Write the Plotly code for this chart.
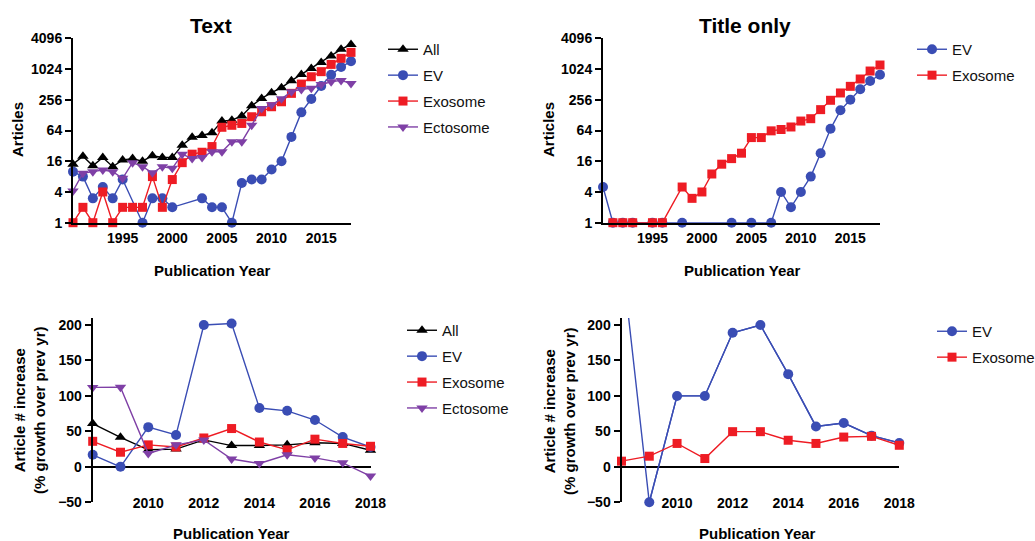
import math
import plotly.graph_objects as go

W, H = 1035, 541

# ---------------- data ----------------
years = list(range(1990, 2019))
text_all = [14, 20, 13, 19, 12.5, 17, 18, 16, 20.5, 19, 19, 33, 47, 51, 58, 98, 102, 123,
            196, 272, 352, 442, 605, 804, 1053, 1380, 1840, 2490, 3110]
text_ev = [10, 8, 3, 5, 3, 7, None, 1, 3, 3, 2, None, None, 3, 2, 2, 1, 6,
           7, 7, 11, 16, 48, 145, 265, 475, 788, 1119, 1455]
text_exo = [1, 2, 1, 4, 1, 2, 2, 2, 8, 2, 7, 15, 22, 24, 31, 74, 81, 88,
            119, 149, 187, 234, 342, 520, 723, 910, 1262, 1660, 2170]
text_ecto = [4.2, 9.3, 10, 10.8, 10, 7.4, 15, 12.5, 9.5, 12.5, 11.6, 22, 18, 19, 24.6, 24.6, 38.6, 38.6,
             81.5, 173, 204, 267, 369, 409, 430, 507, 578, 613, 533]

title_ev = [5, 1, 1, 1, None, 1, 1, None, 1, None, None, None, None, 1, None, 1, None, 1,
            4, 2, 4, 8, 23, 69, 159, 256, 410, 597, 792]
title_exo = [None, 1, 1, 1, None, 1, 1, None, 5, 3, 4, 9, 14, 18, 23, 46.5, 46.5, 63,
             67, 75, 98, 109, 164, 250, 348, 469, 653, 936, 1227]

growth_years = list(range(2008, 2019))
g_text_all = [61, 41.7, 24, 25, 38, 30, 30, 31, 34, 33, 23.4]
g_text_ev = [17, 0, 56, 45, 200, 202, 83, 79, 66, 42, 28]
g_text_exo = [36, 20.6, 31, 28, 40.7, 54, 35, 24, 39, 33, 29]
g_text_ecto = [112, 112.4, 18.7, 31, 38, 11, 4.7, 17, 12.6, 5.6, -13]
g_title_ev = [300, -50, 100, 100, 189, 200, 130.7, 57, 61.8, 44, 33.7]
g_title_exo = [8, 15, 33, 11.7, 49.6, 49.6, 37.5, 33, 42, 43, 30.4]

log_ticks = [1, 4, 16, 64, 256, 1024, 4096]
top_xticks = [1995, 2000, 2005, 2010, 2015]
bottom_xticks = [2010, 2012, 2014, 2016, 2018]
bottom_yticks = [-50, 0, 50, 100, 150, 200]
GROWTH_RANGE = [-50, 210]

# ---------------- style ----------------
FONT = "Liberation Sans, Arial, Helvetica, sans-serif"
BLACK = "#000000"
BLUE = "#3A4DB4"
RED = "#EE1C24"
PURPLE = "#7F40A6"

series_style = {
    "All": dict(color=BLACK, symbol="triangle-up", size=10),
    "EV": dict(color=BLUE, symbol="circle", size=10),
    "Exosome": dict(color=RED, symbol="square", size=9),
    "Ectosome": dict(color=PURPLE, symbol="triangle-down", size=10),
}


def px_x(p):
    return p / W


def px_y(p):
    return 1 - p / H


fig = go.Figure()


def add(name, x, y, xa, ya, legend, group, showlegend=True, clip=False, mode="lines+markers"):
    st = series_style[name]
    fig.add_trace(go.Scatter(
        x=x, y=y, name=name, mode=mode, xaxis=xa, yaxis=ya,
        legend=legend, legendgroup=group, showlegend=showlegend,
        connectgaps=True, cliponaxis=clip,
        line=dict(color=st["color"], width=1.4),
        marker=dict(color=st["color"], symbol=st["symbol"], size=st["size"], line=dict(width=0)),
    ))


# Text (top-left)
add("All", years, text_all, "x", "y", "legend", "a1")
add("EV", years, text_ev, "x", "y", "legend", "a2")
add("Exosome", years, text_exo, "x", "y", "legend", "a3")
add("Ectosome", years, text_ecto, "x", "y", "legend", "a4")

# Title only (top-right)
add("EV", years, title_ev, "x2", "y2", "legend2", "b1")
add("Exosome", years, title_exo, "x2", "y2", "legend2", "b2")

# Growth, text (bottom-left)
add("All", growth_years, g_text_all, "x3", "y3", "legend3", "c1")
add("EV", growth_years, g_text_ev, "x3", "y3", "legend3", "c2")
add("Exosome", growth_years, g_text_exo, "x3", "y3", "legend3", "c3")
add("Ectosome", growth_years, g_text_ecto, "x3", "y3", "legend3", "c4")

# Growth, title only (bottom-right): full line clipped to the plot area,
# plus the in-range points with markers
add("EV", growth_years, g_title_ev, "x4", "y4", "legend4", "d1", showlegend=False, clip=True, mode="lines")
vis = [(xv, yv) for xv, yv in zip(growth_years, g_title_ev) if GROWTH_RANGE[0] <= yv <= GROWTH_RANGE[1]]
add("EV", [v[0] for v in vis], [v[1] for v in vis], "x4", "y4", "legend4", "d1")
add("Exosome", growth_years, g_title_exo, "x4", "y4", "legend4", "d2")

TICKFONT = dict(family=FONT, size=14, color="black", weight="bold")
common_axis = dict(showgrid=False, linecolor="black", linewidth=2, tickfont=TICKFONT)

top_y_dom = [px_y(222.7), px_y(38.3)]
bot_y_dom = [px_y(502.3), px_y(502.3 - (GROWTH_RANGE[1] - GROWTH_RANGE[0]) * 0.7092)]


def top_x(dom, yref):
    return dict(domain=dom, anchor=yref, range=[1990, 2018], tickvals=top_xticks,
                showline=True, ticks="outside", ticklen=1, tickcolor="rgba(0,0,0,0)",
                zeroline=False, **common_axis)


def top_y(xref):
    return dict(domain=top_y_dom, anchor=xref, type="log", range=[0, math.log10(4096)],
                tickvals=log_ticks, ticktext=[str(v) for v in log_ticks],
                showline=True, ticks="outside", ticklen=6, tickwidth=2, tickcolor="black",
                zeroline=False, **common_axis)


def bot_x(dom, ypos):
    return dict(domain=dom, anchor="free", position=ypos, range=[2008, 2018], tickvals=bottom_xticks,
                showline=False, ticks="", zeroline=False, **common_axis)


def bot_y(xref):
    return dict(domain=bot_y_dom, anchor=xref, range=GROWTH_RANGE, tickvals=bottom_yticks,
                showline=True, ticks="outside", ticklen=6, tickwidth=2, tickcolor="black",
                zeroline=True, zerolinecolor="black", zerolinewidth=2, **common_axis)


xlab_pos = px_y(493)

fig.update_layout(
    xaxis=top_x([px_x(73), px_x(351)], "y"),
    yaxis=top_y("x"),
    xaxis2=top_x([px_x(603), px_x(880)], "y2"),
    yaxis2=top_y("x2"),
    xaxis3=bot_x([px_x(92.7), px_x(370.5)], xlab_pos),
    yaxis3=bot_y("x3"),
    xaxis4=bot_x([px_x(621.5), px_x(899.3)], xlab_pos),
    yaxis4=bot_y("x4"),
)

LEGFONT = dict(family=FONT, size=15, color="#111111")


def legend_at(text_x, first_y):
    return dict(x=px_x(text_x - 41), y=px_y(first_y - 16), xanchor="left", yanchor="top",
                font=LEGFONT, bgcolor="rgba(0,0,0,0)", tracegroupgap=3.4,
                traceorder="grouped", itemclick=False, itemdoubleclick=False)


fig.update_layout(
    legend=legend_at(424, 49),
    legend2=legend_at(953, 49),
    legend3=legend_at(443, 330),
    legend4=legend_at(973, 331),
)

ann = []


def text(x, y, s, size=15, angle=0):
    ann.append(dict(x=px_x(x), y=px_y(y), xref="paper", yref="paper", text=s, showarrow=False,
                    textangle=angle, xanchor="center", yanchor="middle",
                    font=dict(family=FONT, size=size, color="black", weight="bold")))


text(211, 25, "Text", size=21)
text(745, 25, "Title only", size=21)
text(18, 130, "Articles", angle=-90)
text(549, 130, "Articles", angle=-90)
text(212, 270, "Publication Year")
text(742, 270, "Publication Year")
text(29, 410, "Article # increase<br>(% growth over prev yr)", angle=-90)
text(559, 411, "Article # increase<br>(% growth over prev yr)", angle=-90)
text(231, 533, "Publication Year")
text(757, 533, "Publication Year")

fig.update_layout(
    width=W, height=H, margin=dict(l=0, r=0, t=0, b=0, autoexpand=False),
    paper_bgcolor="white", plot_bgcolor="white",
    font=dict(family=FONT, color="black"),
    annotations=ann,
)

fig.write_html("out.html", config={"displayModeBar": False, "responsive": False},
               post_script="document.body.style.margin='0';")
